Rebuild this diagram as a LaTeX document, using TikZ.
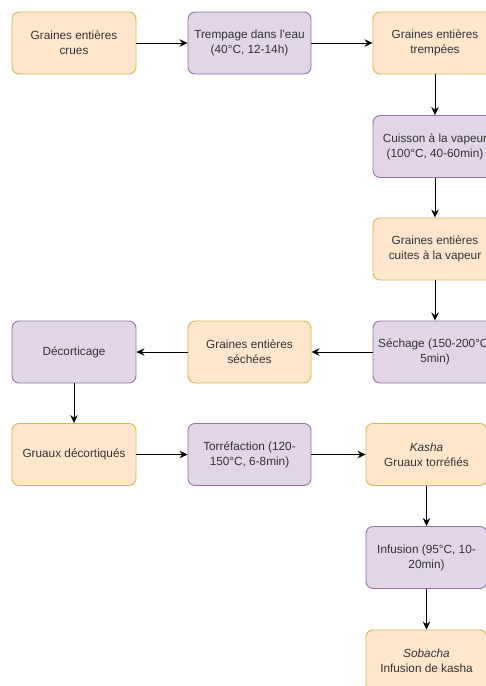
\documentclass[tikz,border=0pt]{standalone}
\usepackage{fontspec}
\setmainfont{Liberation Sans}
\usetikzlibrary{arrows.meta}
\definecolor{orfill}{HTML}{FFE6CC}
\definecolor{ordraw}{HTML}{D6B656}
\definecolor{pufill}{HTML}{E1D5E7}
\definecolor{pudraw}{HTML}{9673A6}
\definecolor{txt}{HTML}{333333}
\tikzset{
  base/.style={rounded corners=7pt, line width=0.9pt, align=center, text=txt,
    font=\fontsize{11.8}{15}\selectfont, inner sep=0pt},
  orbox/.style={base, fill=orfill, draw=ordraw},
  pubox/.style={base, fill=pufill, draw=pudraw},
  conn/.style={-{Stealth[length=8pt,width=7.5pt]}, line width=1pt, black}
}
\begin{document}
\begin{tikzpicture}[x=1pt,y=-1pt]
\useasboundingbox (0,0) rectangle (486,686);
\clip (0,0) rectangle (486,686);
\fill[white] (0,0) rectangle (486,686);
% row 1
\node[orbox, minimum width=124pt, minimum height=62pt] (a) at (74,43) {Graines entières\\crues};
\node[pubox, minimum width=123pt, minimum height=62pt] (b) at (249.5,43) {Trempage dans l'eau\\(40°C, 12-14h)};
\node[orbox, minimum width=124pt, minimum height=62pt] (c) at (435,43) {Graines entières\\trempées};
\node[pubox, minimum width=124pt, minimum height=62pt] (d) at (435,146.5) {Cuisson à la vapeur\\(100°C, 40-60min)};
\node[orbox, minimum width=124pt, minimum height=62pt] (e) at (435,249) {Graines entières\\cuites à la vapeur};
\node[pubox, minimum width=124pt, minimum height=62pt] (f) at (435,352) {Séchage (150-200°C,\\5min)};
\node[orbox, minimum width=123pt, minimum height=62pt] (g) at (249.5,352) {Graines entières\\séchées};
\node[pubox, minimum width=124pt, minimum height=62pt] (h) at (74,352) {Décorticage};
% row 5
\node[orbox, minimum width=124pt, minimum height=62pt] (i) at (74,454.5) {Gruaux décortiqués};
\node[pubox, minimum width=123pt, minimum height=62pt] (j) at (249.5,454.5) {Torréfaction (120-\\150°C, 6-8min)};
\node[orbox, minimum width=121pt, minimum height=62pt] (k) at (426.5,454.5) {\textit{Kasha}\\Gruaux torréfiés};
\node[pubox, minimum width=121pt, minimum height=62pt] (l) at (426.5,557.5) {Infusion (95°C, 10-\\20min)};
\node[orbox, minimum width=121pt, minimum height=62pt] (m) at (426.5,661) {\textit{Sobacha}\\Infusion de kasha};
% connectors
\draw[conn] (a) -- (b);
\draw[conn] (b) -- (c);
\draw[conn] (c.south) -- (d.north);
\draw[conn] (d) -- (e);
\draw[conn] (e) -- (f);
\draw[conn] (f) -- (g);
\draw[conn] (g) -- (h);
\draw[conn] (h) -- (i);
\draw[conn] (i) -- (j);
\draw[conn] (j) -- (k);
\draw[conn] (k) -- (l);
\draw[conn] (l) -- (m);
\end{tikzpicture}
\end{document}
